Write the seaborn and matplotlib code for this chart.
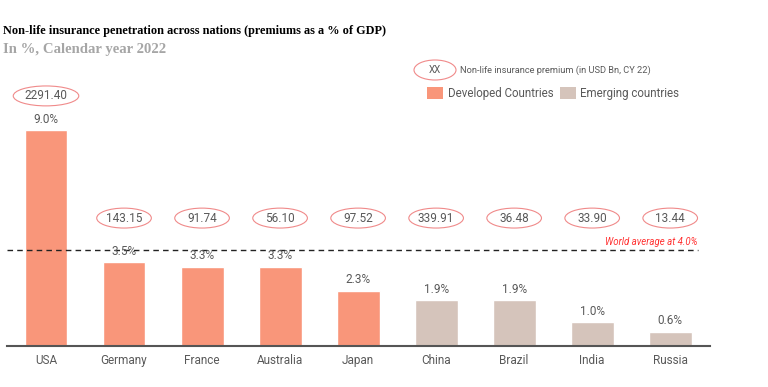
import matplotlib.pyplot as plt
import seaborn as sns
import numpy as np
import pandas as pd
from matplotlib.patches import Ellipse, Rectangle

countries = ['USA', 'Germany', 'France', 'Australia', 'Japan', 'China', 'Brazil', 'India', 'Russia']
penetration = [9.0, 3.5, 3.3, 3.3, 2.3, 1.9, 1.9, 1.0, 0.6]
premium = [2291.40, 143.15, 91.74, 56.10, 97.52, 339.91, 36.48, 33.90, 13.44]
group = ['Developed Countries'] * 5 + ['Emerging countries'] * 4
world_avg = 4.0

colors = {'Developed Countries': '#f9967a', 'Emerging countries': '#d5c4bb'}
text_grey = '#595959'
ring_red = '#f08a8a'

df = pd.DataFrame({'country': countries, 'pen': penetration, 'prem': premium, 'group': group})

sns.set_style('white')
plt.rcParams['font.family'] = ['Roboto', 'DejaVu Sans']

W, H = 768, 387
fig = plt.figure(figsize=(W / 100, H / 100), dpi=100)
ax = fig.add_axes([7 / W, 1 - 346 / H, 703 / W, 286 / H])

sns.barplot(data=df, x='country', y='pen', hue='group', palette=colors,
            dodge=False, width=0.55, legend=False, ax=ax, saturation=1)

ax.set_xlim(-0.5, 8.51)
ax.set_ylim(0, 286 / 24)
for s in ['top', 'right', 'left']:
    ax.spines[s].set_visible(False)
ax.spines['bottom'].set_color('#555555')
ax.spines['bottom'].set_linewidth(1.5)
ax.set_yticks([])
ax.set_xlabel('')
ax.set_ylabel('')
ax.tick_params(axis='x', length=0, pad=6, labelsize=8.5, labelcolor=text_grey)

for i, (p, v) in enumerate(zip(penetration, premium)):
    ax.text(i, p + 0.18, f'{p:.1f}%', ha='center', va='bottom', fontsize=8.5, color=text_grey)
    if i == 0:
        ey, ew = 10.42, 0.84
    else:
        ey, ew = 5.33, 0.7
    ax.add_patch(Ellipse((i, ey), ew, 0.83, fill=False, edgecolor=ring_red, linewidth=0.8))
    ax.text(i, ey, f'{v:.2f}', ha='center', va='center', fontsize=8.5, color=text_grey)

ax.hlines(world_avg, -0.5, 8.35, colors='#222222', linestyles=(0, (4, 3)), linewidth=1)
ax.text(8.35, world_avg + 0.12, 'World average at 4.0%', ha='right', va='bottom',
        fontsize=6.9, color='#ff3333', style='italic')

# title block
fig.text(3 / W, 1 - 31 / H, 'Non-life insurance penetration across nations (premiums as a % of GDP)',
         family='Liberation Serif', fontweight='bold', fontsize=8.8, color='black', va='center')
fig.text(3 / W, 1 - 49 / H, 'In %, Calendar year 2022',
         family='Liberation Serif', fontweight='bold', fontsize=10.6, color='#a6a6a6', va='center')

# legend
fig.patches.append(Ellipse((435 / W, 1 - 70 / H), 42 / W, 20 / H, transform=fig.transFigure,
                           fill=False, edgecolor=ring_red, linewidth=0.8))
fig.text(435 / W, 1 - 70 / H, 'XX', ha='center', va='center', fontsize=7, color=text_grey)
fig.text(460 / W, 1 - 70 / H, 'Non-life insurance premium (in USD Bn, CY 22)', va='center',
         fontsize=6.7, color=text_grey)
fig.patches.append(Rectangle((427 / W, 1 - 99 / H), 16 / W, 12 / H, transform=fig.transFigure,
                             facecolor=colors['Developed Countries'], edgecolor='none'))
fig.text(448 / W, 1 - 93 / H, 'Developed Countries', va='center', fontsize=8.3, color=text_grey)
fig.patches.append(Rectangle((560 / W, 1 - 99 / H), 16 / W, 12 / H, transform=fig.transFigure,
                             facecolor=colors['Emerging countries'], edgecolor='none'))
fig.text(580 / W, 1 - 93 / H, 'Emerging countries', va='center', fontsize=8.3, color=text_grey)

fig.savefig('out.png', dpi=100)
